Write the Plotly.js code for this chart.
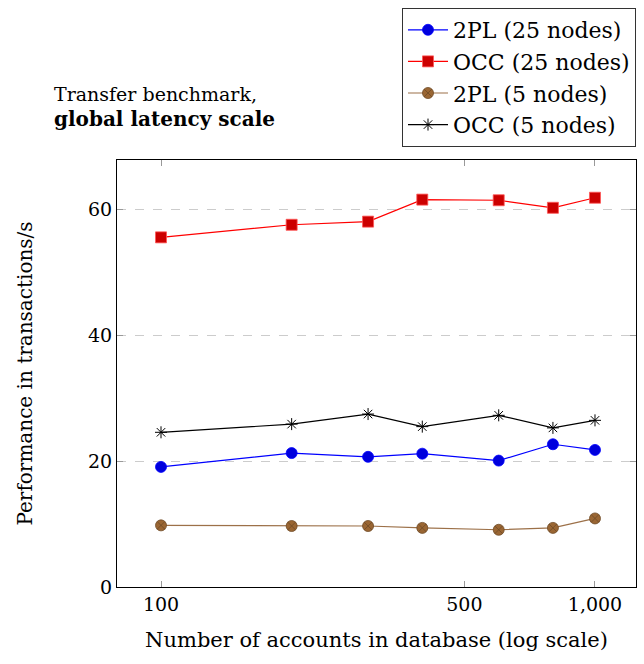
<!DOCTYPE html>
<html>
<head>
<meta charset="utf-8">
<script src="https://cdn.plot.ly/plotly-3.0.1.min.js"></script>
<style>html,body{margin:0;padding:0;background:#fff;}#chart{width:644px;height:664px;}</style>
</head>
<body>
<div id="chart"></div>
<script>
var accounts = [100, 200, 300, 400, 600, 800, 1000];
var pl2_25 = [19.1, 21.3, 20.7, 21.2, 20.1, 22.7, 21.8];
var occ_25 = [55.6, 57.6, 58.1, 61.6, 61.5, 60.3, 61.9];
var pl2_5 = [9.8, 9.7, 9.7, 9.4, 9.1, 9.4, 10.9];
var occ_5 = [24.6, 25.9, 27.5, 25.5, 27.3, 25.3, 26.5];
var seriesNames = ['2PL (25 nodes)', 'OCC (25 nodes)', '2PL (5 nodes)', 'OCC (5 nodes)'];
var xTickVals = [100, 500, 1000];
var xTickText = ['100', '500', '1,000'];
var yTickVals = [0, 20, 40, 60];

var FONT = 'DejaVu Serif';
var FS = 19;
var traces = [
  {x: accounts, y: pl2_25, name: seriesNames[0], mode: 'lines+markers', type: 'scatter',
   line: {color: '#0000ff', width: 1.2},
   marker: {symbol: 'circle', size: 11, color: '#0000dd', line: {color: '#0000ff', width: 0.8}}},
  {x: accounts, y: occ_25, name: seriesNames[1], mode: 'lines+markers', type: 'scatter',
   line: {color: '#ff0000', width: 1.2},
   marker: {symbol: 'square', size: 11, color: '#cc0000', line: {color: '#ff5555', width: 0.8}}},
  {x: accounts, y: pl2_5, name: seriesNames[2], mode: 'lines+markers', type: 'scatter',
   line: {color: '#9c7048', width: 1.2},
   marker: {symbol: 'circle-x', size: 11, color: '#9a6633', line: {color: '#6e4a26', width: 0.8}}},
  {x: accounts, y: occ_5, name: seriesNames[3], mode: 'lines+markers', type: 'scatter',
   line: {color: '#000000', width: 1.2},
   marker: {symbol: 'asterisk-open', size: 10, color: '#000000', line: {color: '#000000', width: 1}}}
];

var layout = {
  width: 644, height: 664,
  margin: {l: 117, r: 8, t: 157, b: 77, pad: 0},
  paper_bgcolor: '#ffffff', plot_bgcolor: '#ffffff',
  font: {family: FONT, size: FS, color: '#000'},
  showlegend: true,
  legend: {x: 1, xanchor: 'right', y: 1.356, yanchor: 'top', bgcolor: '#fff',
           bordercolor: '#333', borderwidth: 1, font: {family: FONT, size: 22, color: '#000'},
           tracegroupgap: 0, itemwidth: 40},
  xaxis: {type: 'log', range: [1.8986, 3.0945],
          tickvals: xTickVals, ticktext: xTickText, ticks: 'inside', ticklen: 6,
          tickcolor: '#999', mirror: 'allticks', showline: true, linecolor: '#000', linewidth: 1,
          showgrid: false, zeroline: false, tickfont: {family: FONT, size: FS},
          title: {text: 'Number of accounts in database (log scale)', font: {family: FONT, size: 21}, standoff: 18}},
  yaxis: {range: [0, 67.9], tickvals: yTickVals, ticks: 'inside', ticklen: 6,
          tickcolor: '#999', mirror: 'allticks', showline: true, linecolor: '#000', linewidth: 1,
          showgrid: true, gridcolor: '#cccccc', griddash: 'dash', gridwidth: 1, zeroline: false,
          tickfont: {family: FONT, size: FS},
          title: {text: 'Performance in transactions/s', font: {family: FONT, size: 20}, standoff: 50}},
  annotations: [{xref: 'paper', yref: 'paper', x: -0.125, y: 1.064, xanchor: 'left', yanchor: 'bottom',
                 align: 'left', showarrow: false,
                 text: 'Transfer benchmark,<br><b><span style="font-size:20px">global latency scale</span></b>',
                 font: {family: FONT, size: FS, color: '#000'}}]
};
Plotly.newPlot('chart', traces, layout, {displayModeBar: false, staticPlot: true});
</script>
</body>
</html>
